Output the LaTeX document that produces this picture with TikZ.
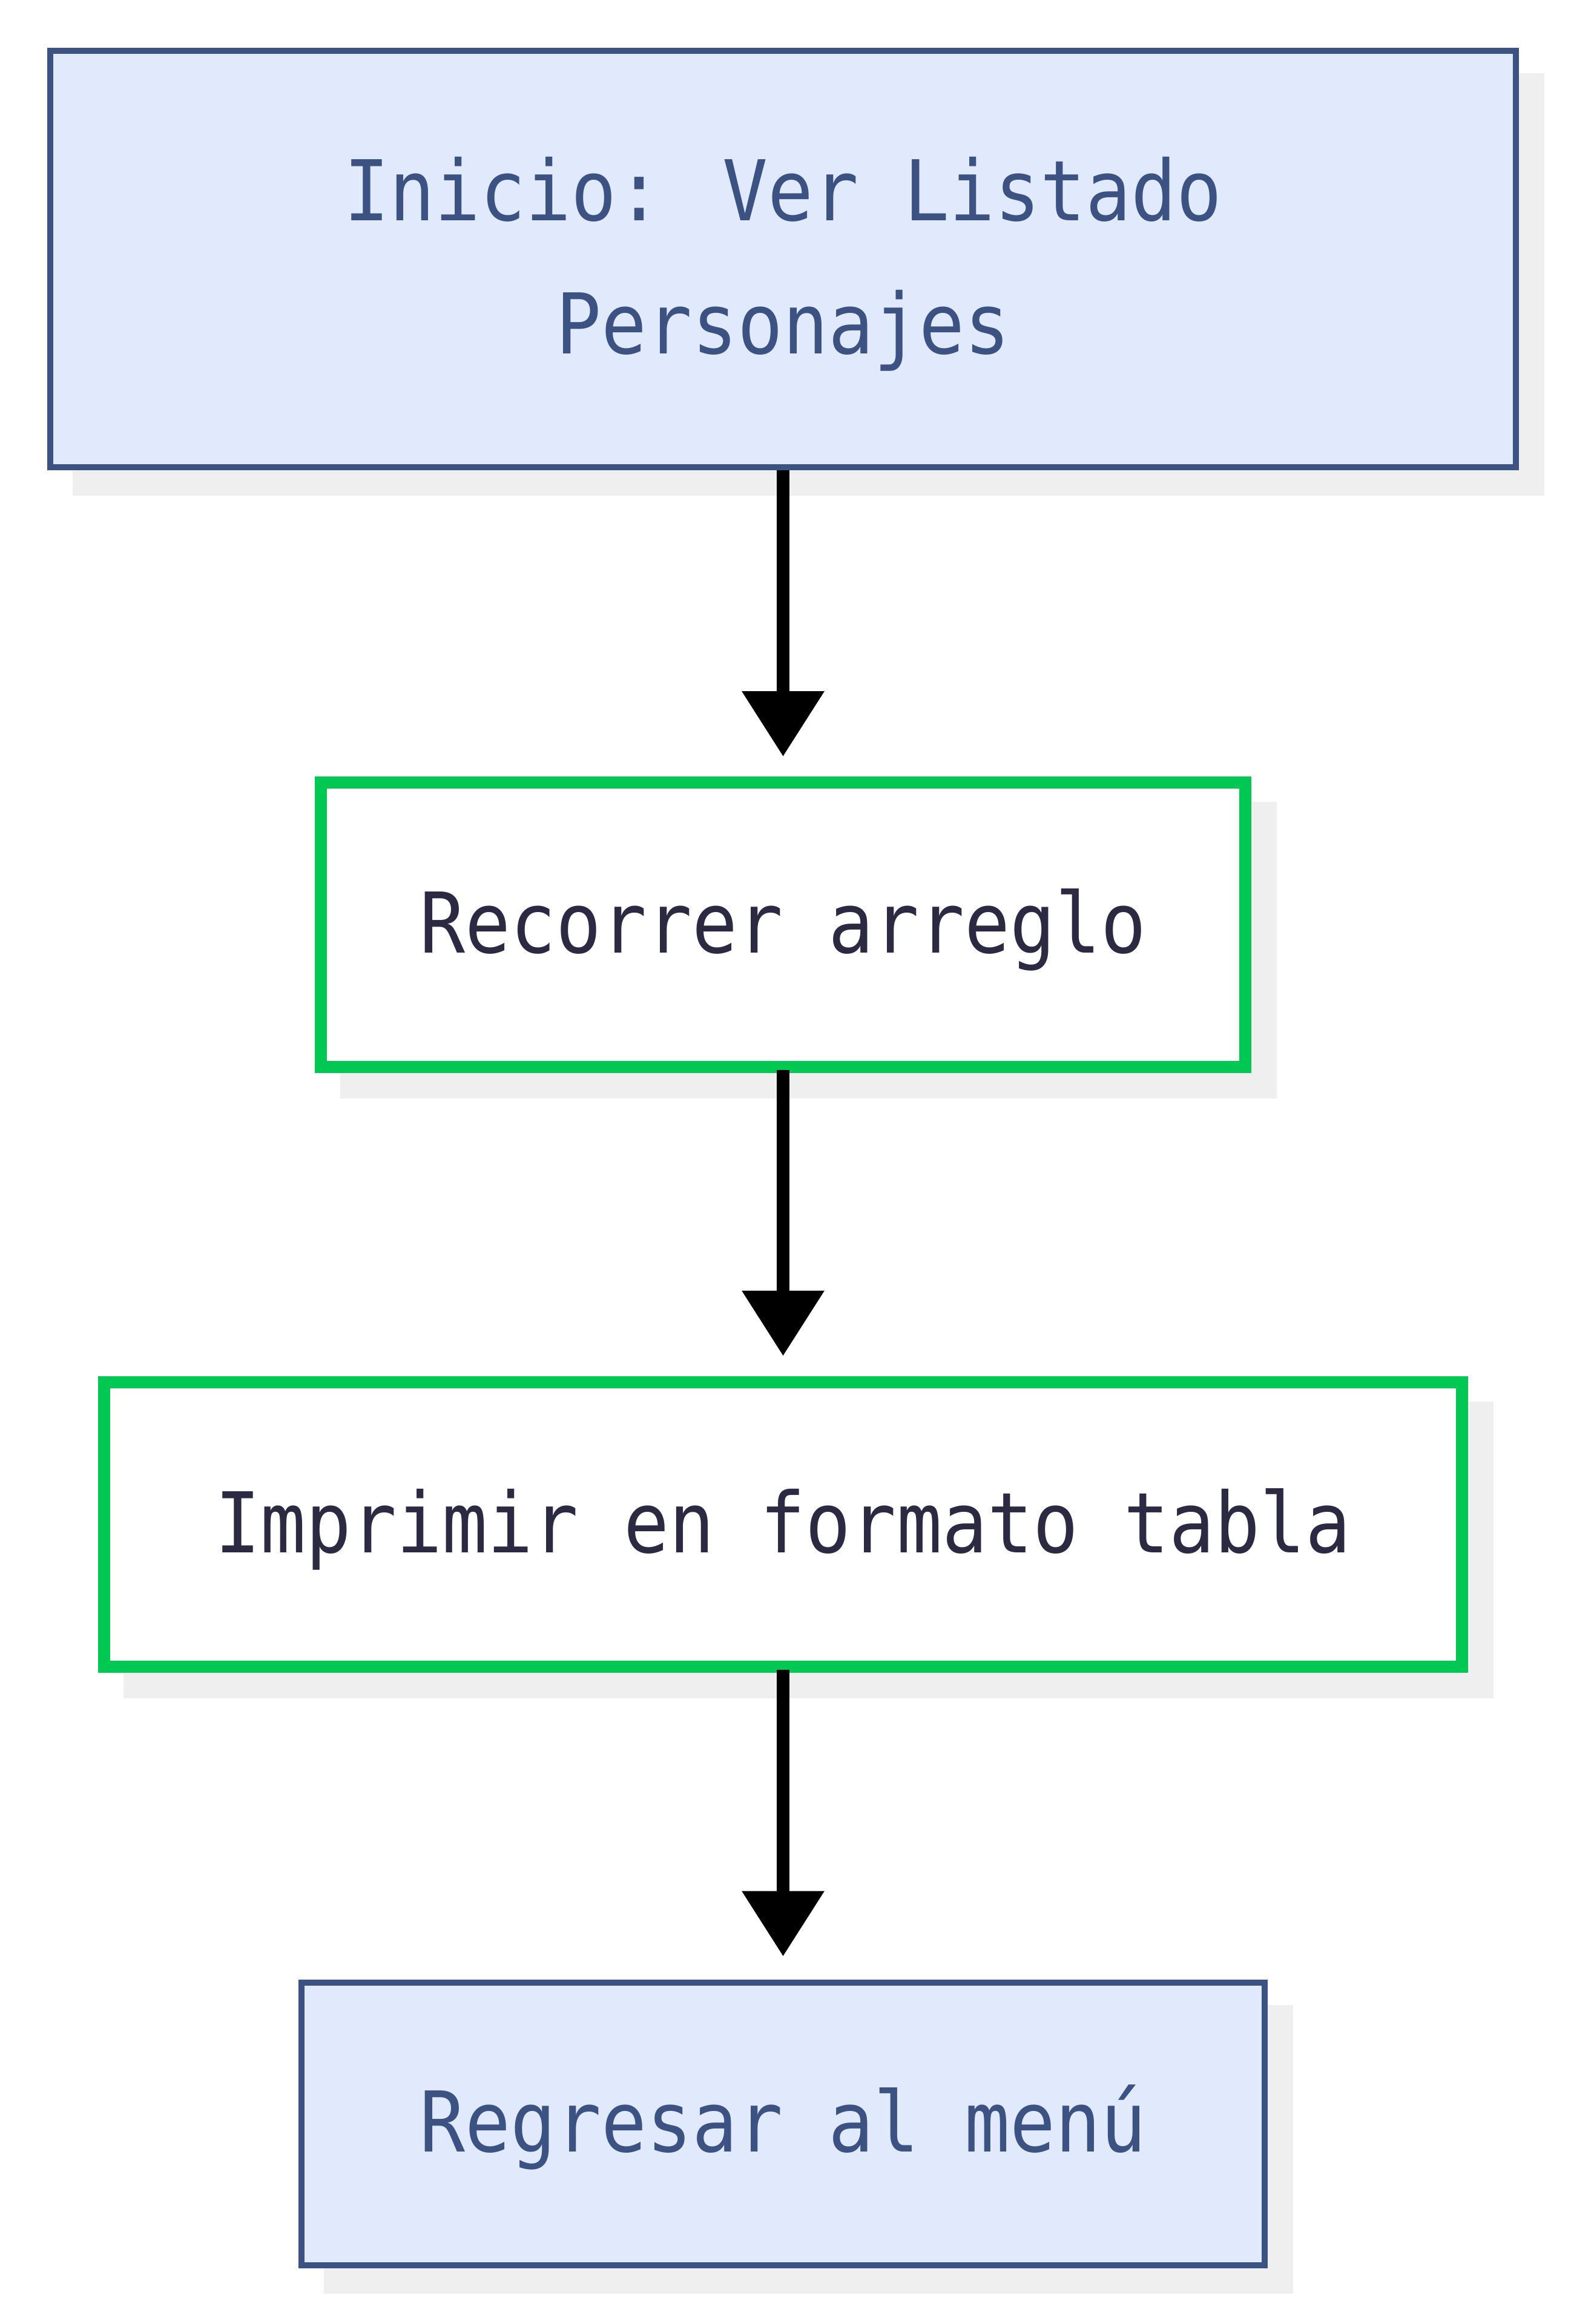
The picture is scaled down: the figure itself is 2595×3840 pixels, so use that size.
\documentclass[tikz,border=0pt]{standalone}
\usepackage{fontspec}
\usepackage{tikz}
\usetikzlibrary{arrows.meta,shadows}
\newfontfamily\flowfont[FakeStretch=0.9]{DejaVu Sans Mono}
\definecolor{termfill}{HTML}{E1EAFD}
\definecolor{termline}{HTML}{3B5283}
\definecolor{procline}{HTML}{00C853}
\definecolor{proctext}{HTML}{2B2A42}
\definecolor{shadowgray}{HTML}{EFEFEF}

\begin{document}
\begin{tikzpicture}[x=0.2pt, y=-0.2pt,
		every node/.style={draw, inner sep=0pt, outer sep=0pt, minimum height=94pt, align=center,
			font=\flowfont\fontsize{27.7pt}{44pt}\selectfont, text height=21.05pt, text depth=2.35pt,
			drop shadow={shadow xshift=8.4pt, shadow yshift=-8.4pt, fill=shadowgray, draw=shadowgray, opacity=1}},
		term/.style={fill=termfill, draw=termline, text=termline, line width=2pt},
		proc/.style={fill=white, draw=procline, text=proctext, line width=4pt},
		flow/.style={-{Triangle[length=21.6pt, width=26.2pt]}, line width=4.2pt, shorten >=8.6pt, shorten <=1pt}]
		\useasboundingbox (0,0) rectangle (2595,3840);

		\path (1293.5,427.5) node[term, minimum width=484pt, minimum height=137.6pt, text height=65.05pt] (inicio) {Inicio: Ver Listado\\Personajes}
		(1293.5,1528) node[proc, minimum width=305.4pt] (recorrer) {Recorrer arreglo}
		(1293.5,2518.5) node[proc, minimum width=448.6pt] (imprimir) {Imprimir en formato tabla}
		(1293.5,3509) node[term, minimum width=318pt, minimum height=93.4pt] (regresar) {Regresar al menú};

		\draw[flow] (inicio) -- (recorrer);
		\draw[flow] (recorrer) -- (imprimir);
		\draw[flow] (imprimir) -- (regresar);
	\end{tikzpicture}
\end{document}
